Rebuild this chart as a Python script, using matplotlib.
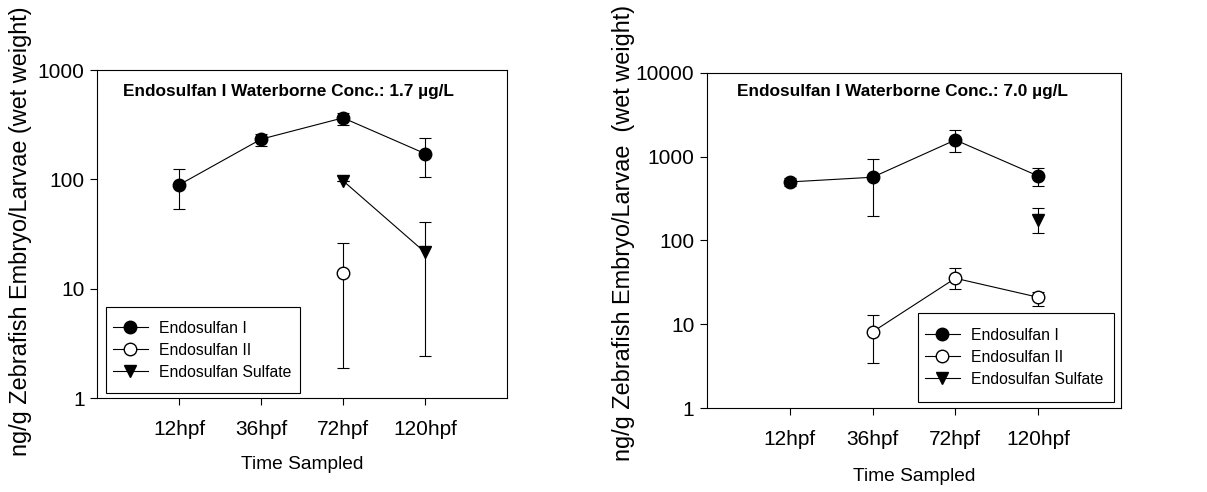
import matplotlib
matplotlib.use('Agg')
import matplotlib.pyplot as plt
from matplotlib.lines import Line2D
from matplotlib.patches import Rectangle
import numpy as np

plt.rcParams['font.family'] = ['Liberation Sans', 'DejaVu Sans']

times = ['12hpf', '36hpf', '72hpf', '120hpf']
x = np.array([1, 2, 3, 4])
nan = np.nan

# left panel, 1.7 ug/L
endo1_a = [89, 233, 365, 172]
endo1_a_lo = [53, 200, 315, 105]
endo1_a_hi = [124, 260, 408, 240]
endo2_a = [nan, nan, 14, nan]
endo2_a_lo = [nan, nan, 1.87, nan]
endo2_a_hi = [nan, nan, 26, nan]
sulf_a = [nan, nan, 97, 21.5]
sulf_a_lo = [nan, nan, 97, 2.42]
sulf_a_hi = [nan, nan, 97, 41]

# right panel, 7.0 ug/L
endo1_b = [500, 569, 1585, 589]
endo1_b_lo = [450, 198, 1130, 447]
endo1_b_hi = [555, 948, 2085, 741]
endo2_b = [nan, 8.1, 35.4, 21]
endo2_b_lo = [nan, 3.47, 26.1, 16.7]
endo2_b_hi = [nan, 12.9, 46.6, 24.5]
sulf_b = [nan, nan, nan, 176]
sulf_b_lo = [nan, nan, nan, 122]
sulf_b_hi = [nan, nan, nan, 244]

labels = ['Endosulfan I', 'Endosulfan II', 'Endosulfan Sulfate']
ylab = 'ng/g Zebrafish Embryo/Larvae (wet weight)'
ylab2 = 'ng/g Zebrafish Embryo/Larvae  (wet weight)'

MS = 9


def err(v, lo, hi):
    v = np.array(v, float)
    return [v - np.array(lo, float), np.array(hi, float) - v]


def series(ax, v, lo, hi, marker, face):
    ax.errorbar(x, v, yerr=err(v, lo, hi), color='black', marker=marker,
                mfc=face, mec='black', ms=MS, lw=0.8, elinewidth=0.8,
                capsize=4, capthick=0.8)


def panel(ax, data, ymax, title, ylabel, titlepos, legbox, ylabpos, xlabpos):
    (e1, e1l, e1h), (e2, e2l, e2h), (s, sl, sh) = data
    series(ax, e1, e1l, e1h, 'o', 'black')
    series(ax, e2, e2l, e2h, 'o', 'white')
    series(ax, s, sl, sh, 'v', 'black')
    ax.set_yscale('log')
    ax.set_ylim(1, ymax)
    ax.set_xlim(0, 5)
    ax.set_xticks(x)
    ax.set_xticklabels(times)
    ax.yaxis.set_minor_locator(matplotlib.ticker.NullLocator())
    ax.yaxis.set_major_formatter(matplotlib.ticker.FuncFormatter(lambda v, p: '%d' % v))
    ax.tick_params(direction='out', length=5, width=0.8, labelsize=15)
    ax.tick_params(axis='x', pad=11)
    ax.tick_params(axis='y', pad=4)
    for sp in ax.spines.values():
        sp.set_linewidth(0.8)
    ax.set_xlabel('Time Sampled', fontsize=13.8)
    ax.xaxis.set_label_coords(*xlabpos)
    ax.set_ylabel(ylabel, fontsize=16.9)
    ax.yaxis.set_label_coords(*ylabpos)
    ax.text(titlepos[0], titlepos[1], title, transform=ax.transAxes, fontsize=12.4,
            fontweight='bold', va='center', ha='left')

    # legend frame drawn as a box, entries placed inside it
    x0, y0, x1, y1 = legbox
    ax.add_patch(Rectangle((x0, y0), x1 - x0, y1 - y0, transform=ax.transAxes,
                           fill=True, fc='white', ec='black', lw=0.8, zorder=4))
    handles = [Line2D([], [], color='black', marker='o', mfc='black', ms=MS, lw=0.8),
               Line2D([], [], color='black', marker='o', mfc='white', mec='black', ms=MS, lw=0.8),
               Line2D([], [], color='black', marker='v', mfc='black', ms=MS, lw=0.8)]
    leg = ax.legend(handles, labels, loc='center left',
                    bbox_to_anchor=(x0 + 0.017, (y0 + y1) / 2),
                    borderaxespad=0, borderpad=0, fontsize=11.3, frameon=False,
                    handlelength=2.2, handletextpad=0.7, labelspacing=0.45)
    leg.set_zorder(5)


fig = plt.figure(figsize=(12.07, 4.92), dpi=100)
ax1 = fig.add_axes([0.0804, 0.191, 0.3397, 0.6667])
ax2 = fig.add_axes([0.5857, 0.1707, 0.343, 0.681])

panel(ax1, [(endo1_a, endo1_a_lo, endo1_a_hi), (endo2_a, endo2_a_lo, endo2_a_hi),
            (sulf_a, sulf_a_lo, sulf_a_hi)], 1000,
      'Endosulfan I Waterborne Conc.: 1.7 \u00b5g/L', ylab,
      (0.063, 0.933), (0.022, 0.015, 0.495, 0.277), (-0.159, 0.509), (0.5, -0.177))
panel(ax2, [(endo1_b, endo1_b_lo, endo1_b_hi), (endo2_b, endo2_b_lo, endo2_b_hi),
            (sulf_b, sulf_b_lo, sulf_b_hi)], 10000,
      'Endosulfan I Waterborne Conc.: 7.0 \u00b5g/L', ylab2,
      (0.072, 0.944), (0.51, 0.018, 0.983, 0.284), (-0.174, 0.522), (0.5, -0.179))

fig.savefig('out.png', dpi=100)
